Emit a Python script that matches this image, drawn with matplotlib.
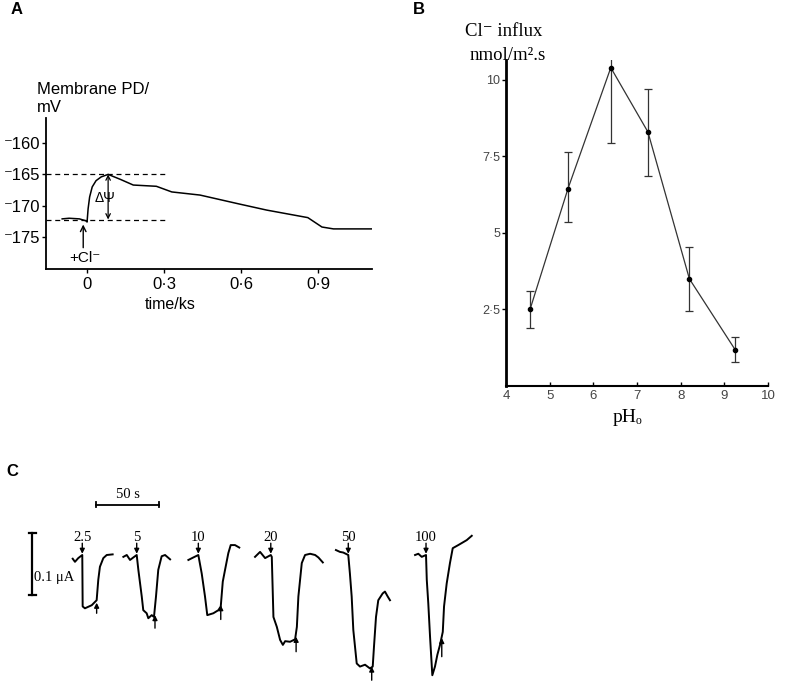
import numpy as np
import matplotlib
matplotlib.use("Agg")
import matplotlib.pyplot as plt

# ---- panel A: membrane PD trace ----
a_time = [-0.097, -0.07, -0.03, -0.005, 0.0, 0.004, 0.01, 0.02, 0.035, 0.055, 0.082, 0.13,
          0.18, 0.27, 0.33, 0.44, 0.59, 0.70, 0.86, 0.915, 0.96, 1.11]
a_pd = [-172.1, -172.0, -172.1, -172.4, -172.6, -170.5, -168.6, -167.0, -166.0, -165.4,
        -165.0, -165.8, -166.7, -166.9, -167.8, -168.3, -169.7, -170.7, -171.9, -173.4,
        -173.7, -173.7]
a_peak = -165.0
a_base = -172.2
a_yticks = [-160, -165, -170, -175]
a_ylabels = ["\u207b160", "\u207b165", "\u207b170", "\u207b175"]
a_xticks = [0, 0.3, 0.6, 0.9]
a_xlabels = ["0", "0\u00b73", "0\u00b76", "0\u00b79"]

# ---- panel B: Cl- influx vs pH ----
b_ph = [4.55, 5.42, 6.40, 7.25, 8.20, 9.25]
b_flux = [2.50, 6.45, 10.40, 8.30, 3.50, 1.18]
b_upper = [3.10, 7.65, 10.75, 9.70, 4.55, 1.60]
b_lower = [1.90, 5.35, 7.95, 6.87, 2.46, 0.80]
b_yticks = [2.5, 5, 7.5, 10]
b_ylabels = ["2\u00b75", "5", "7\u00b75", "10"]
b_xticks = [4, 5, 6, 7, 8, 9, 10]

# ---- panel C: current traces (time s from application, current uA) ----
c_labels = ["2.5", "5", "10", "20", "50", "100"]
c_t = [
    [-7.6, -5.8, -3.2, 0, 0.3, 2.1, 7.5, 11.4, 12.7, 14.0, 16.7, 19.4, 24.1],
    [-10.6, -7.9, -5.3, -2.7, 0, 1.3, 4.0, 5.2, 7.9, 9.2, 11.9, 13.7, 15.3, 17.1, 19.8, 22.5, 26.5],
    [-7.9, -4.0, 0, 2.7, 5.3, 7.1, 11.9, 15.9, 17.8, 19.4, 21.2, 23.8, 25.7, 29.1, 32.5],
    [-12.5, -8.5, -4.5, 0, 0.8, 2.1, 4.8, 7.4, 9.6, 11.4, 15.3, 19.3, 20.7, 21.9, 24.6, 27.2,
     31.2, 35.2, 37.8, 41.3],
    [-9.8, -6.6, -4.0, 0, 1.3, 2.7, 4.0, 6.7, 9.3, 13.3, 17.2, 19.4, 20.4, 22.0, 23.8, 27.3,
     29.1, 31.3, 33.1],
    [-8.7, -6.1, -3.4, 0, 0.6, 1.8, 3.2, 5.0, 7.1, 9.0, 11.1, 13.3, 14.3, 16.4, 19.0, 21.2,
     25.6, 32.3, 36.3],
]
c_i = [
    [-0.006, -0.011, -0.005, 0, -0.083, -0.086, -0.081, -0.073, -0.040, -0.019, -0.005, 0.0, 0.001],
    [-0.003, 0.0, -0.008, -0.004, 0, -0.024, -0.067, -0.089, -0.094, -0.102, -0.097, -0.100,
     -0.067, -0.024, -0.002, 0.0, -0.007],
    [-0.008, -0.004, 0, -0.030, -0.067, -0.097, -0.094, -0.089, -0.083, -0.043, -0.024, 0.003,
     0.016, 0.016, 0.012],
    [-0.003, 0.005, -0.005, 0, -0.003, -0.100, -0.116, -0.137, -0.145, -0.139, -0.140, -0.136,
     -0.116, -0.067, -0.013, 0.0, 0.002, 0.0, -0.004, -0.012],
    [0.008, 0.005, 0.004, 0, -0.030, -0.067, -0.121, -0.175, -0.180, -0.177, -0.183, -0.180,
     -0.148, -0.100, -0.073, -0.062, -0.059, -0.067, -0.073],
    [0.0, 0.002, -0.003, 0, -0.040, -0.078, -0.132, -0.194, -0.180, -0.161, -0.145, -0.124,
     -0.083, -0.046, -0.013, 0.011, 0.016, 0.024, 0.031],
]
# washout arrow: time, current at arrow tip, current at arrow tail
c_wash_t = [11.4, 14.5, 17.8, 20.1, 18.6, 12.5]
c_wash_tip = [-0.077, -0.097, -0.081, -0.132, -0.180, -0.134]
c_wash_tail = [-0.094, -0.118, -0.104, -0.156, -0.202, -0.164]
# where each trace sits along the strip (s from the left end of the 50 s bar)
c_offset = [-10.9, 32.3, 81.2, 138.7, 200.2, 261.9]

sans = ["Liberation Sans", "DejaVu Sans"]
serif = ["Liberation Serif", "DejaVu Serif"]

fig = plt.figure(figsize=(8, 6.83), dpi=100)

def fx(px):
    return px / 800

def fy(py):
    return 1 - py / 683

# ---------------- A ----------------
axA = fig.add_axes([fx(46), fy(269), fx(372) - fx(46), fy(118) - fy(269)])
axA.plot(a_time, a_pd, color="k", lw=1.1)
axA.plot([-0.16, 0.31], [a_peak, a_peak], color="k", lw=0.9, ls=(0, (4, 3)))
axA.plot([-0.16, 0.31], [a_base, a_base], color="k", lw=0.9, ls=(0, (4, 3)))
axA.annotate("", xy=(0.082, a_peak), xytext=(0.082, a_base),
             arrowprops=dict(arrowstyle="<->", lw=0.9, color="k", shrinkA=0, shrinkB=0,
                             mutation_scale=8))
axA.text(0.07, -168.7, "\u0394\u03a8", ha="center", va="center", fontsize=10, family=sans)
axA.annotate("", xy=(-0.015, -173.0), xytext=(-0.015, -176.7),
             arrowprops=dict(arrowstyle="->", lw=1.0, color="k", shrinkA=0, shrinkB=0,
                             mutation_scale=10))
axA.text(-0.01, -178.4, "+Cl\u207b", ha="center", va="center", fontsize=11, family=sans)
axA.set_xlim(-0.16, 1.11)
axA.set_ylim(-180.1, -156)
axA.spines["top"].set_visible(False)
axA.spines["right"].set_visible(False)
for s in ["left", "bottom"]:
    axA.spines[s].set_linewidth(1.3)
axA.set_yticks(a_yticks)
axA.set_yticklabels(a_ylabels, family=sans, fontsize=12)
axA.set_xticks(a_xticks)
axA.set_xticklabels(a_xlabels, family=sans, fontsize=12)
axA.tick_params(axis="y", length=3, width=1, pad=1)
axA.tick_params(axis="x", length=3, width=1, pad=3)
fig.text(fx(170), fy(305), "time/ks", ha="center", va="center", fontsize=11.5, family=sans)
fig.text(fx(37), fy(90), "Membrane PD/", ha="left", va="center", fontsize=12, family=sans)
fig.text(fx(37), fy(108), "mV", ha="left", va="center", fontsize=12, family=sans)

# ---------------- B ----------------
axB = fig.add_axes([fx(506), fy(386), fx(768) - fx(506), fy(60) - fy(386)])
yerr = [np.array(b_flux) - np.array(b_lower), np.array(b_upper) - np.array(b_flux)]
axB.errorbar(b_ph, b_flux, yerr=yerr, color="#333333", lw=0.9, elinewidth=0.9,
             capsize=3, capthick=0.9, marker="o", markersize=3,
             markerfacecolor="k", markeredgecolor="k")
axB.set_xlim(4, 10)
axB.set_ylim(0, 10.65)
axB.spines["top"].set_visible(False)
axB.spines["right"].set_visible(False)
axB.spines["left"].set_linewidth(2.0)
axB.spines["bottom"].set_linewidth(1.5)
axB.set_yticks(b_yticks)
axB.set_yticklabels(b_ylabels, fontsize=9, family=sans, color="#444444")
axB.set_xticks(b_xticks)
axB.set_xticklabels([str(v) for v in b_xticks], fontsize=9.5, family=sans, color="#444444")
axB.tick_params(axis="y", direction="out", length=3, width=1, pad=1)
axB.tick_params(axis="x", direction="in", length=3, width=1, pad=3)
fig.text(fx(465), fy(32), "Cl\u207b influx", ha="left", va="center", fontsize=13.5, family=serif)
fig.text(fx(470), fy(55), "nmol/m\u00b2.s", ha="left", va="center", fontsize=13.5, family=serif)
fig.text(fx(627), fy(417), "pH\u2092", ha="center", va="center", fontsize=14, family=serif)

# ---------------- C ----------------
axC = fig.add_axes([0, 0, 1, fy(480)])
axC.set_xlim(-76.2, 558.7)
axC.set_ylim(-0.2065, 0.121)
axC.axis("off")
for k in range(len(c_labels)):
    off = c_offset[k]
    axC.plot(np.array(c_t[k]) + off, c_i[k], color="k", lw=1.4, solid_joinstyle="round")
    axC.annotate("", xy=(off, 0.002), xytext=(off, 0.019),
                 arrowprops=dict(arrowstyle="-|>", lw=1.0, color="k", shrinkA=0, shrinkB=0,
                                 mutation_scale=7))
    axC.text(off, 0.029, c_labels[k], ha="center", va="center", fontsize=10.5, family=serif)
    wt = c_wash_t[k] + off
    axC.annotate("", xy=(wt, c_wash_tip[k]), xytext=(wt, c_wash_tail[k]),
                 arrowprops=dict(arrowstyle="-|>", lw=1.0, color="k", shrinkA=0, shrinkB=0,
                                 mutation_scale=7))
# scale bars
axC.plot([0, 50], [0.081, 0.081], color="k", lw=1.3)
axC.plot([0, 0], [0.077, 0.085], color="k", lw=1.3)
axC.plot([50, 50], [0.077, 0.085], color="k", lw=1.3)
axC.text(25, 0.097, "50 s", ha="center", va="center", fontsize=10.5, family=serif)
axC.plot([-50.6, -50.6], [0.035, -0.065], color="k", lw=1.6)
axC.plot([-53, -48], [0.035, 0.035], color="k", lw=1.6)
axC.plot([-53, -48], [-0.065, -0.065], color="k", lw=1.6)
axC.text(-49.2, -0.037, "0.1 \u03bcA", ha="left", va="center", fontsize=10.5, family=serif)

# panel letters
fig.text(fx(17), fy(10), "A", ha="center", va="center", fontsize=12, fontweight="bold", family=sans)
fig.text(fx(419), fy(10), "B", ha="center", va="center", fontsize=12, fontweight="bold", family=sans)
fig.text(fx(12), fy(472), "C", ha="center", va="center", fontsize=12, fontweight="bold", family=sans)

fig.savefig("out.png", dpi=100)
